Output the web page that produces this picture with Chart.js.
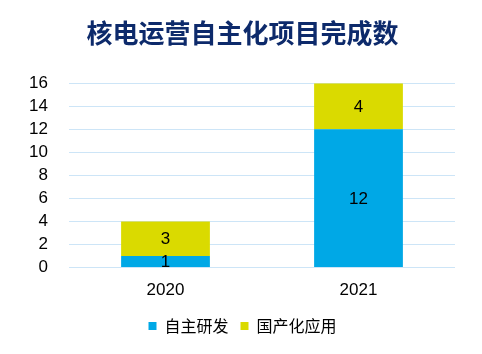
<!DOCTYPE html>
<html>
<head>
<meta charset="utf-8">
<script src="https://cdn.jsdelivr.net/npm/chart.js@4"></script>
<style>
  html, body { margin: 0; padding: 0; background: #fff; }
  #wrap { width: 482px; height: 354px; }
</style>
</head>
<body>
<div id="wrap"><canvas id="chart"></canvas></div>
<script>
const years = ['2020', '2021'];
const selfDeveloped = [1, 12];
const localized = [3, 4];
const seriesNames = ['自主研发', '国产化应用'];

// draws value in the middle of each bar segment
const barValues = {
  id: 'barValues',
  afterDatasetsDraw(chart) {
    const ctx = chart.ctx;
    ctx.save();
    ctx.font = '17px "Liberation Sans", Arial, sans-serif';
    ctx.fillStyle = '#000';
    ctx.textAlign = 'center';
    ctx.textBaseline = 'middle';
    chart.data.datasets.forEach((ds, i) => {
      chart.getDatasetMeta(i).data.forEach((bar, j) => {
        const mid = (bar.y + bar.base) / 2;
        ctx.fillText(ds.data[j], bar.x, mid + 1);
      });
    });
    ctx.restore();
  }
};

new Chart(document.getElementById('chart'), {
  type: 'bar',
  data: {
    labels: years,
    datasets: [
      { label: seriesNames[0], data: selfDeveloped, backgroundColor: '#00A8E6' },
      { label: seriesNames[1], data: localized, backgroundColor: '#DADA00' }
    ]
  },
  options: {
    responsive: true,
    maintainAspectRatio: false,
    animation: false,
    layout: { padding: { left: 30, right: 27, top: 6, bottom: 10 } },
    datasets: { bar: { categoryPercentage: 0.46, barPercentage: 1 } },
    scales: {
      x: {
        stacked: true,
        grid: { display: false },
        border: { display: false },
        ticks: { color: '#000', padding: 5, font: { size: 17, family: '"Liberation Sans", Arial, sans-serif' } }
      },
      y: {
        stacked: true,
        min: 0,
        max: 16,
        afterFit(scale) { scale.width = 39; },
        ticks: { stepSize: 2, autoSkip: false, color: '#000', padding: 21, font: { size: 17, family: '"Liberation Sans", Arial, sans-serif' } },
        grid: { color: '#CDE5F7', drawTicks: false },
        border: { display: false }
      }
    },
    plugins: {
      title: {
        display: true,
        text: '核电运营自主化项目完成数',
        color: '#0D2A6B',
        font: { size: 26, weight: 'bold', family: '"Noto Sans CJK SC", sans-serif' },
        padding: { top: 12, bottom: 34 }
      },
      legend: {
        position: 'bottom',
        labels: {
          color: '#000',
          boxWidth: 8,
          boxHeight: 8,
          padding: 12,
          font: { size: 16, family: '"Noto Sans CJK SC", sans-serif' }
        }
      },
      tooltip: { enabled: false }
    }
  },
  plugins: [barValues]
});
</script>
</body>
</html>
